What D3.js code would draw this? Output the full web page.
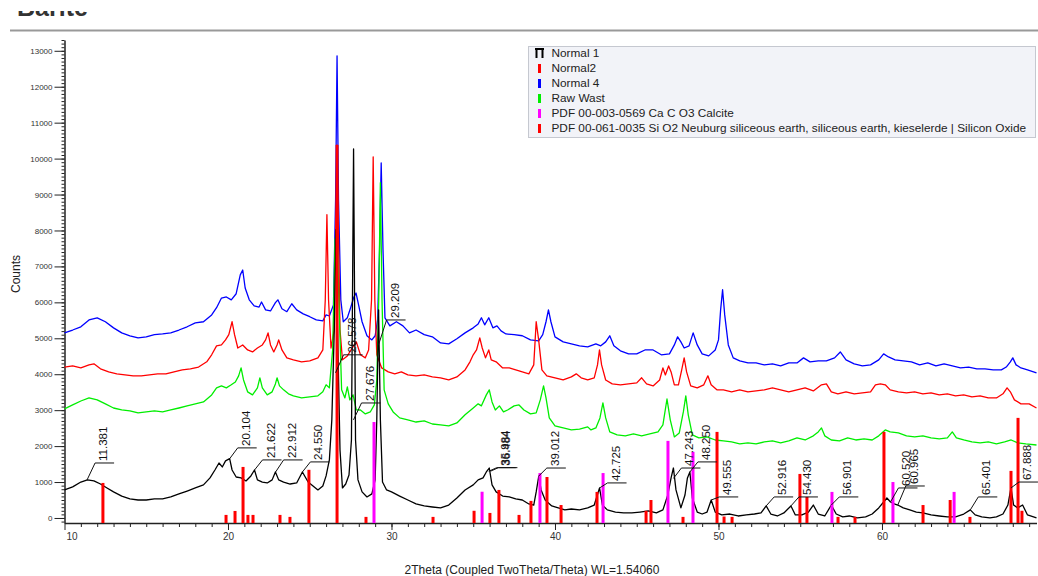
<!DOCTYPE html>
<html>
<head>
<meta charset="utf-8">
<script src="https://cdn.jsdelivr.net/npm/d3@7"></script>
<style>
  body { margin: 0; background: #fff; }
  svg { display: block; font-family: "Liberation Sans", Arial, sans-serif; }
</style>
</head>
<body>
<div id="chart"></div>
<script>
// scan data: [2theta, counts]
const normal4 = [[10,5150],[10.5,5230],[11,5320],[11.5,5510],[12,5570],[12.5,5460],[13,5290],[13.5,5150],[14,5070],[14.5,5010],[15,5040],[15.5,5100],[16,5120],[16.5,5150],[17,5230],[17.5,5320],[18,5430],[18.5,5460],[19,5650],[19.3,5850],[19.6,6120],[19.9,6150],[20.2,6070],[20.5,6240],[20.75,6765],[20.9,6900],[21.05,6400],[21.3,6070],[21.6,5900],[21.9,5870],[22.05,6010],[22.3,5790],[22.6,5760],[22.9,5990],[23.05,6070],[23.3,5820],[23.6,5740],[23.9,5960],[24.2,5790],[24.6,5680],[25,5600],[25.4,5510],[25.8,5485],[26,5650],[26.2,5620],[26.45,5930],[26.58,8850],[26.67,12860],[26.76,8850],[26.9,6070],[27.05,5460],[27.3,5570],[27.5,5850],[27.7,6150],[27.83,6260],[28,5900],[28.2,5460],[28.5,5070],[28.8,4955],[29,5070],[29.15,5510],[29.27,7460],[29.37,9880],[29.48,7460],[29.6,5570],[29.9,5345],[30.3,5460],[30.7,5345],[31.1,5150],[31.5,5230],[32,5100],[32.5,5040],[33,4870],[33.5,4845],[34,4985],[34.5,5150],[35,5290],[35.3,5400],[35.5,5570],[35.7,5375],[35.95,5570],[36.2,5290],[36.45,5345],[36.7,5205],[37,5120],[37.5,5100],[38,5070],[38.5,4955],[39,4930],[39.25,5100],[39.45,5460],[39.6,5790],[39.75,5460],[40,5040],[40.5,4900],[41,4845],[41.5,4790],[42,4760],[42.5,4845],[42.8,4790],[43.1,4900],[43.35,5070],[43.6,4790],[44,4650],[44.5,4565],[45,4565],[45.5,4675],[46,4675],[46.5,4540],[47,4565],[47.3,4815],[47.5,5040],[47.7,4900],[47.9,4730],[48.2,4790],[48.45,5150],[48.7,4815],[49,4565],[49.4,4510],[49.8,4675],[50,4955],[50.13,5790],[50.25,6350],[50.38,5650],[50.6,4815],[50.9,4455],[51.3,4370],[51.8,4315],[52.3,4315],[52.8,4260],[53.3,4290],[53.8,4230],[54.3,4315],[54.8,4315],[55.2,4455],[55.6,4345],[56.1,4370],[56.6,4370],[57.1,4455],[57.45,4620],[57.8,4400],[58.3,4290],[58.8,4230],[59.3,4260],[59.8,4400],[60.1,4565],[60.4,4480],[60.8,4400],[61.3,4370],[61.8,4345],[62.3,4260],[62.8,4315],[63.3,4230],[63.8,4290],[64.3,4230],[64.8,4175],[65.3,4200],[65.8,4150],[66.3,4150],[66.8,4120],[67.3,4120],[67.6,4200],[67.85,4345],[68,4455],[68.2,4260],[68.5,4175],[68.9,4120],[69.45,4035]];

const normal2 = [[10,4200],[10.5,4230],[11,4175],[11.5,4260],[11.8,4290],[12.2,4150],[12.7,4065],[13.2,4010],[13.7,3980],[14.2,3955],[14.7,3955],[15.2,3980],[15.7,4010],[16.2,4010],[16.7,4065],[17.2,4120],[17.7,4150],[18.2,4200],[18.7,4345],[19,4540],[19.3,4790],[19.6,4815],[19.85,4955],[20.05,5100],[20.25,5460],[20.4,5100],[20.6,4730],[20.9,4815],[21.2,4675],[21.5,4620],[21.8,4730],[22.1,4815],[22.3,4955],[22.45,5150],[22.6,4815],[22.8,4620],[23,4815],[23.1,4955],[23.3,4675],[23.6,4455],[24,4400],[24.5,4345],[25,4370],[25.5,4455],[25.8,4675],[25.95,6070],[26.05,8440],[26.15,6070],[26.3,4730],[26.5,5235],[26.67,10380],[26.85,5235],[27,4400],[27.3,4510],[27.6,4730],[27.85,4900],[28.1,4540],[28.4,4455],[28.6,4675],[28.78,6070],[28.88,10050],[28.98,6070],[29.1,4540],[29.4,4175],[29.8,4065],[30.2,4010],[30.6,4065],[31,3980],[31.5,3955],[32,3980],[32.5,3925],[33,3900],[33.5,3840],[34,3925],[34.5,4120],[34.8,4345],[35,4540],[35.2,4675],[35.4,5010],[35.55,4730],[35.75,4455],[35.95,4675],[36.1,4400],[36.4,4345],[36.8,4175],[37.2,4175],[37.6,4120],[38,4065],[38.4,4010],[38.7,4260],[38.85,5460],[39,4955],[39.2,4120],[39.5,3955],[40,3900],[40.5,3840],[41,3925],[41.3,4010],[41.6,3900],[42,3840],[42.4,3900],[42.6,4260],[42.72,4675],[42.85,4260],[43.1,3840],[43.5,3730],[44,3705],[44.5,3730],[45,3760],[45.3,3900],[45.6,3730],[46,3675],[46.4,3840],[46.6,4175],[46.75,3980],[46.95,4230],[47.1,4065],[47.3,3705],[47.55,3705],[47.75,4120],[47.9,4455],[48.05,4065],[48.3,3675],[48.7,3620],[49.1,3705],[49.35,3955],[49.55,3705],[49.9,3565],[50.3,3565],[50.8,3510],[51.3,3565],[51.8,3510],[52.3,3535],[52.8,3565],[53.3,3620],[53.8,3565],[54.3,3510],[54.8,3565],[55.3,3620],[55.8,3535],[56.3,3705],[56.6,3730],[56.9,3510],[57.3,3455],[57.8,3510],[58.3,3455],[58.8,3480],[59.3,3510],[59.6,3705],[59.9,3730],[60.2,3705],[60.5,3565],[61,3510],[61.5,3480],[62,3510],[62.5,3455],[63,3480],[63.5,3425],[64,3455],[64.5,3400],[65,3425],[65.5,3370],[66,3400],[66.5,3340],[67,3340],[67.4,3455],[67.65,3620],[67.85,3510],[68.1,3285],[68.5,3175],[69,3175],[69.45,3060]];

const rawWast = [[10,3035],[10.5,3145],[11,3255],[11.5,3340],[12,3285],[12.5,3175],[13,3060],[13.5,3005],[14,2980],[14.5,2925],[15,2950],[15.5,2980],[16,2950],[16.5,3005],[17,3060],[17.5,3120],[18,3175],[18.5,3230],[19,3425],[19.3,3620],[19.6,3675],[19.9,3620],[20.2,3705],[20.45,3785],[20.65,3955],[20.8,4175],[20.95,3840],[21.2,3510],[21.5,3425],[21.8,3620],[21.95,3900],[22.1,3620],[22.4,3425],[22.7,3510],[22.9,3730],[23,3900],[23.15,3675],[23.4,3565],[23.7,3455],[24,3400],[24.5,3340],[25,3370],[25.5,3400],[25.8,3510],[26,3705],[26.2,3620],[26.4,4675],[26.55,7740],[26.67,8020],[26.78,6070],[26.95,3565],[27.15,3340],[27.3,3650],[27.45,3285],[27.65,3425],[27.85,3010],[28.1,3005],[28.4,2895],[28.7,2950],[28.95,3145],[29.1,3840],[29.22,6070],[29.32,9330],[29.42,6070],[29.55,3565],[29.8,3175],[30.1,2950],[30.5,2785],[31,2730],[31.5,2670],[32,2700],[32.5,2615],[33,2590],[33.5,2560],[34,2645],[34.5,2870],[35,3060],[35.3,3175],[35.5,3120],[35.8,3425],[35.98,3565],[36.15,3230],[36.35,3005],[36.6,3120],[36.85,2950],[37.1,3005],[37.5,3120],[37.8,3145],[38.1,3005],[38.5,2895],[38.85,2925],[39.1,3285],[39.3,3675],[39.45,3340],[39.65,2785],[40,2560],[40.5,2505],[41,2450],[41.5,2475],[42,2535],[42.2,2450],[42.5,2505],[42.75,2785],[42.93,3200],[43.1,2785],[43.35,2395],[43.8,2310],[44.3,2285],[44.8,2340],[45.3,2285],[45.8,2340],[46.3,2395],[46.6,2590],[46.85,3310],[47.05,2730],[47.3,2255],[47.6,2365],[47.85,2950],[48,3400],[48.15,2870],[48.4,2310],[48.8,2230],[49.3,2255],[49.8,2170],[50.3,2145],[50.8,2115],[51.3,2060],[51.8,2090],[52.3,2060],[52.8,2115],[53.3,2145],[53.8,2090],[54.3,2145],[54.8,2230],[55.3,2170],[55.8,2285],[56.1,2395],[56.3,2505],[56.5,2285],[56.9,2170],[57.4,2145],[57.9,2230],[58.4,2170],[58.9,2200],[59.4,2170],[59.8,2285],[60.2,2450],[60.5,2395],[61,2365],[61.5,2285],[62,2255],[62.5,2285],[63,2230],[63.5,2200],[64,2230],[64.3,2395],[64.55,2230],[65,2170],[65.5,2115],[66,2090],[66.5,2115],[67,2060],[67.5,2115],[67.9,2170],[68.3,2090],[68.8,2060],[69.45,2030]];

const normal1 = [[10,780],[10.5,865],[11,1000],[11.4,1060],[11.8,1030],[12.2,945],[12.6,835],[13,725],[13.5,610],[14,530],[14.5,500],[15,500],[15.5,530],[16,530],[16.5,585],[17,670],[17.5,750],[18,835],[18.5,920],[18.9,1115],[19.2,1335],[19.45,1530],[19.65,1420],[19.85,1590],[20.1,1650],[20.25,1335],[20.5,1140],[20.8,1115],[21.1,1030],[21.4,1170],[21.62,1335],[21.8,1060],[22.1,1000],[22.4,975],[22.7,1060],[22.9,1280],[23.1,1060],[23.4,1000],[23.8,945],[24.2,975],[24.55,1280],[24.9,1000],[25.2,890],[25.5,780],[25.8,890],[26,1170],[26.2,1615],[26.35,2730],[26.5,5235],[26.6,8020],[26.7,5235],[26.85,1895],[27,835],[27.2,945],[27.4,1195],[27.55,2170],[27.68,10270],[27.8,2170],[27.95,1060],[28.2,725],[28.5,585],[28.8,670],[29,1060],[29.1,2730],[29.21,5790],[29.32,2730],[29.45,1000],[29.7,780],[30,725],[30.5,610],[31,500],[31.5,390],[32,335],[32.5,305],[33,280],[33.5,360],[34,555],[34.5,780],[35,920],[35.3,1060],[35.6,1115],[35.8,1280],[35.98,1390],[36.15,920],[36.4,725],[36.8,610],[37.2,585],[37.6,530],[38,500],[38.4,390],[38.7,360],[38.85,725],[39.01,1170],[39.15,780],[39.4,500],[39.8,335],[40.2,280],[40.6,225],[41,250],[41.5,225],[42,280],[42.4,360],[42.725,835],[42.9,360],[43.2,225],[43.7,165],[44.2,140],[44.7,140],[45.2,165],[45.7,195],[46.2,140],[46.6,225],[46.9,640],[47.1,1115],[47.243,1390],[47.4,780],[47.7,280],[47.95,640],[48.1,1115],[48.25,1280],[48.4,555],[48.7,165],[49,110],[49.3,165],[49.555,500],[49.8,165],[50.2,85],[50.7,110],[51.2,55],[51.7,85],[52.2,110],[52.6,140],[52.916,335],[53.2,110],[53.6,55],[54,140],[54.43,335],[54.7,85],[55.1,85],[55.5,165],[55.8,360],[56.1,110],[56.5,55],[56.9,360],[57.2,110],[57.6,30],[58,55],[58.5,0],[59,30],[59.4,110],[59.8,280],[60.1,445],[60.3,555],[60.52,445],[60.75,390],[60.965,360],[61.3,280],[61.7,225],[62.1,165],[62.5,140],[63,85],[63.5,55],[64,30],[64.5,30],[65,110],[65.401,225],[65.7,85],[66.1,30],[66.6,0],[67,30],[67.4,110],[67.7,360],[67.888,835],[68.05,360],[68.3,280],[68.6,360],[68.9,85],[69.45,0]];

// reference patterns: [2theta, height]
const siO2Sticks = [[12.35,975],[19.88,85],[20.43,195],[20.92,1420],[21.22,85],[21.53,85],[23.18,85],[23.79,30],[24.95,1340],[26.67,10380],[28.44,30],[32.54,30],[35.05,200],[36.02,140],[36.57,780],[37.8,85],[38.53,475],[39.51,1140],[40.37,360],[42.57,725],[45.57,200],[45.87,500],[47.83,30],[49.91,2395],[50.34,40],[50.83,30],[54.98,1225],[55.41,585],[57.31,30],[58.35,30],[60.12,2395],[62.51,360],[64.17,500],[65.38,30],[67.89,1310],[68.32,2785],[68.56,200]];
const calciteSticks = [[28.93,2670],[35.54,730],[39.08,1250],[42.94,1250],[46.91,2145],[48.44,1840],[56.94,725],[60.67,1000],[64.41,725]];

// peak labels on Normal 1: [2theta, text, count at peak, count at label bar]
const peakLabels = [[11.381,"11.381",1060,1530],[20.104,"20.104",1650,1950],[21.622,"21.622",1335,1615],[22.912,"22.912",1280,1615],[24.55,"24.550",1280,1560],[26.578,"26.578",4040,4540],[27.676,"27.676",2730,3200],[29.209,"29.209",4820,5510],[35.95,"35.984",1300,1400],[36.05,"36.484",1300,1400],[39.012,"39.012",1170,1390],[42.725,"42.725",835,975],[47.243,"47.243",1100,1390],[48.25,"48.250",1280,1560],[49.555,"49.555",500,585],[52.916,"52.916",335,585],[54.43,"54.430",335,585],[56.901,"56.901",360,585],[60.52,"60.520",445,835],[60.965,"60.965",360,890],[65.401,"65.401",225,585],[67.888,"67.888",835,1000]];

const yMajor = d3.range(0, 13001, 1000);
const xMajor = d3.range(10, 61, 10);
const legendNames = ["Normal 1", "Normal2", "Normal 4", "Raw Wast", "PDF 00-003-0569 Ca C O3 Calcite", "PDF 00-061-0035 Si O2 Neuburg siliceous earth, siliceous earth, kieselerde | Silicon Oxide"];
const legendColors = ["#000000", "#ff0000", "#0000ff", "#00ee00", "#ff00ff", "#ff0000"];

const width = 1038, height = 576;
const svg = d3.select("#chart").append("svg")
  .attr("width", width).attr("height", height);

const x = d3.scaleLinear().domain([10, 69.45]).range([64.5, 1036.5]);
const y = d3.scaleLinear().domain([-140, 13300]).range([523, 40]);

// title, only its lower edge shows in the source image
svg.append("clipPath").attr("id", "titleclip")
  .append("rect").attr("x", 0).attr("y", 11).attr("width", 200).attr("height", 10);
svg.append("text")
  .attr("clip-path", "url(#titleclip)")
  .attr("x", 17).attr("y", 16)
  .attr("font-size", 25).attr("font-weight", "bold").attr("fill", "#333")
  .text("Barite");

svg.append("line")
  .attr("x1", 10).attr("x2", width).attr("y1", 30.5).attr("y2", 30.5)
  .attr("stroke", "#999").attr("stroke-width", 2);

// axes
const yMinor = svg.append("g").attr("transform", "translate(64.5,0)")
  .call(d3.axisLeft(y).tickValues(d3.range(-100, 13301, 100)).tickSize(3).tickFormat(""));
const yAxis = svg.append("g").attr("transform", "translate(64.5,0)")
  .call(d3.axisLeft(y).tickValues(yMajor).tickSize(10).tickPadding(2).tickSizeOuter(0).tickFormat(d3.format("d")));
yAxis.selectAll("text").attr("font-size", 8).attr("fill", "#333").attr("font-family", "Liberation Sans, Arial");

const xMinor = svg.append("g").attr("transform", "translate(0,523)")
  .call(d3.axisBottom(x).tickValues(d3.range(11, 70, 1)).tickSize(4).tickFormat(""));
const xAxis = svg.append("g").attr("transform", "translate(0,523)")
  .call(d3.axisBottom(x).tickValues(xMajor).tickSize(7).tickPadding(3).tickSizeOuter(0));
xAxis.selectAll("text").attr("font-size", 10).attr("fill", "#333").attr("font-family", "Liberation Sans, Arial");
xAxis.selectAll("text").filter(d => d === 10).attr("dx", 7);
[yMinor, yAxis, xMinor, xAxis].forEach(g => {
  g.selectAll("line").attr("stroke", "#222");
  g.select(".domain").attr("stroke", "#222").attr("stroke-width", 1.5);
});
xMinor.select(".domain").remove();
yMinor.select(".domain").remove();

svg.append("text")
  .attr("transform", "translate(20,274) rotate(-90)")
  .attr("text-anchor", "middle").attr("font-size", 12).attr("fill", "#222")
  .text("Counts");
svg.append("text")
  .attr("x", 532).attr("y", 574)
  .attr("text-anchor", "middle").attr("font-size", 12).attr("fill", "#222")
  .text("2Theta (Coupled TwoTheta/Theta) WL=1.54060");

// scans
const line = d3.line().x(d => x(d[0])).y(d => y(d[1]));
const scans = [[normal4, "#0000ff"], [normal2, "#ff0000"], [rawWast, "#00ee00"], [normal1, "#000000"]];
svg.append("g").selectAll("path")
  .data(scans)
  .join("path")
  .attr("d", d => line(d[0]))
  .attr("fill", "none")
  .attr("stroke", d => d[1])
  .attr("stroke-width", 1.3)
  .attr("stroke-linejoin", "round");

// sticks
const drawSticks = (data, color) => {
  svg.append("g").selectAll("rect")
    .data(data)
    .join("rect")
    .attr("x", d => x(d[0]) - 1.5)
    .attr("width", 3)
    .attr("y", d => y(d[1]))
    .attr("height", d => y(-140) - y(d[1]))
    .attr("fill", color);
};
drawSticks(siO2Sticks, "#ff0000");
drawSticks(calciteSticks, "#ff00ff");

// peak labels
const lbl = svg.append("g").selectAll("g")
  .data(peakLabels)
  .join("g");
lbl.append("path")
  .attr("d", d => {
    const x0 = x(d[0]), bx = x0 + 8, by = y(d[3]);
    return `M${x0},${y(d[2])}L${bx},${by}H${bx + 19}`;
  })
  .attr("fill", "none").attr("stroke", "#111").attr("stroke-width", 1);
lbl.append("text")
  .attr("transform", d => `translate(${x(d[0]) + 20},${y(d[3]) - 2}) rotate(-90)`)
  .attr("font-size", 11.5).attr("fill", "#111")
  .text(d => d[1]);

// legend
const legend = svg.append("g");
legend.append("rect")
  .attr("x", 528.5).attr("y", 46.5).attr("width", 507).attr("height", 91)
  .attr("fill", "#f2f3f8").attr("stroke", "#c5c8d0");
const item = legend.selectAll("g.item")
  .data(legendNames)
  .join("g").attr("class", "item")
  .attr("transform", (d, i) => `translate(0,${53 + i * 15})`);
item.filter((d, i) => i > 0).append("rect")
  .attr("x", 538).attr("y", -4).attr("width", 3).attr("height", 9)
  .attr("fill", (d, i) => legendColors[i + 1]);
item.filter((d, i) => i === 0).append("path")
  .attr("d", "M535,-4H544M536.5,-4V5M542.5,-4V5")
  .attr("stroke", "#000").attr("stroke-width", 2).attr("fill", "none");
item.append("text")
  .attr("x", 551.5).attr("y", 4)
  .attr("font-size", 11.8).attr("fill", "#222")
  .text(d => d);
</script>
</body>
</html>
